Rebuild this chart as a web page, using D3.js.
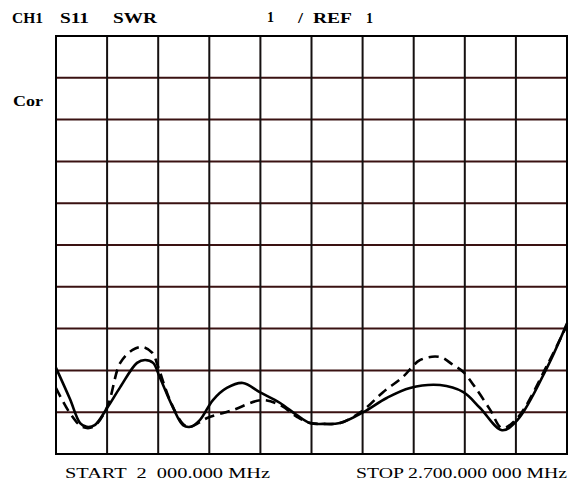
<!DOCTYPE html>
<html>
<head>
<meta charset="utf-8">
<script src="https://cdn.jsdelivr.net/npm/d3@7"></script>
<style>
  body { margin: 0; background: #fff; }
  text { font-family: "Liberation Serif", "DejaVu Serif", serif; fill: #000; }
</style>
</head>
<body>
<div id="container"></div>
<script>
// Frequência (MHz) e SWR
var freqSolid = [2000, 2019, 2033, 2042, 2053, 2070, 2088, 2111, 2122, 2133, 2142, 2160, 2174, 2184, 2197, 2215, 2234, 2256, 2279, 2307, 2330, 2348, 2366, 2389, 2421, 2453, 2485, 2526, 2558, 2581, 2611, 2632, 2673, 2700]
var swrSolid  = [3.06, 2.32, 1.74, 1.65, 1.69, 2.10, 2.60, 3.18, 3.25, 3.18, 2.84, 2.12, 1.69, 1.65, 1.81, 2.29, 2.58, 2.70, 2.48, 2.22, 1.93, 1.74, 1.72, 1.74, 2.00, 2.34, 2.58, 2.65, 2.48, 2.10, 1.57, 1.81, 3.08, 4.13]

var freqDashed = [2000, 2019, 2036, 2051, 2070, 2088, 2105, 2119, 2132, 2140, 2156, 2174, 2184, 2207, 2242, 2282, 2307, 2330, 2348, 2366, 2389, 2421, 2448, 2475, 2499, 2526, 2544, 2558, 2574, 2595, 2611, 2632, 2673, 2700]
var swrDashed  = [2.58, 1.98, 1.65, 1.65, 2.12, 3.18, 3.49, 3.56, 3.42, 3.08, 2.29, 1.72, 1.65, 1.86, 2.05, 2.29, 2.17, 1.89, 1.74, 1.72, 1.74, 2.05, 2.48, 2.84, 3.25, 3.32, 3.13, 2.96, 2.60, 2.05, 1.62, 1.86, 3.13, 4.09]

var xTicks = d3.range(2000, 2701, 70)
var yTicks = d3.range(1, 12, 1)

var margin = { top: 36, left: 56, right: 4, bottom: 31 },
  width = 571 - margin.left - margin.right,
  height = 485 - margin.top - margin.bottom

var svg = d3.select("#container")
  .append("svg")
  .attr("width", 571)
  .attr("height", 485)

var g = svg.append("g")
  .attr("transform", "translate(" + margin.left + "," + margin.top + ")")

// Escalas
var x = d3.scaleLinear().domain([2000, 2700]).range([0, width])
var y = d3.scaleLinear().domain([1, 11]).range([height, 0])

// Grade
g.selectAll(".hline")
  .data(yTicks)
  .enter().append("line")
  .attr("x1", 0).attr("x2", width)
  .attr("y1", function(d) { return y(d) })
  .attr("y2", function(d) { return y(d) })
  .attr("stroke", "#3a1212")
  .attr("stroke-width", 2)

g.selectAll(".vline")
  .data(xTicks)
  .enter().append("line")
  .attr("y1", 0).attr("y2", height)
  .attr("x1", function(d) { return x(d) })
  .attr("x2", function(d) { return x(d) })
  .attr("stroke", "#151010")
  .attr("stroke-width", 2)

g.append("rect")
  .attr("width", width).attr("height", height)
  .attr("fill", "none")
  .attr("stroke", "#000")
  .attr("stroke-width", 2)

// Curvas
var line = d3.line()
  .x(function(d) { return x(d[0]) })
  .y(function(d) { return y(d[1]) })
  .curve(d3.curveCatmullRom)

g.append("path")
  .datum(d3.zip(freqDashed, swrDashed))
  .attr("d", line)
  .attr("fill", "none")
  .attr("stroke", "#000")
  .attr("stroke-width", 2.6)
  .attr("stroke-dasharray", "10,6")

g.append("path")
  .datum(d3.zip(freqSolid, swrSolid))
  .attr("d", line)
  .attr("fill", "none")
  .attr("stroke", "#000")
  .attr("stroke-width", 2.6)

// Textos (largura medida na imagem)
var labels = [
  { t: "CH1", x: 12, y: 23, w: "bold", len: 31 },
  { t: "S11", x: 60, y: 23, w: "bold", len: 29 },
  { t: "SWR", x: 113, y: 23, w: "bold", len: 44 },
  { t: "1", x: 267, y: 22, w: "bold", len: 7 },
  { t: "/", x: 298, y: 23, w: "bold", len: 5 },
  { t: "REF", x: 313, y: 23, w: "bold", len: 39 },
  { t: "1", x: 366, y: 23, w: "bold", len: 7 },
  { t: "Cor", x: 13, y: 106, w: "bold", len: 30 },
  { t: "START  2  000.000 MHz", x: 65, y: 478, w: "normal", len: 205 },
  { t: "STOP 2.700.000 000 MHz", x: 356, y: 478, w: "normal", len: 211 }
]

svg.selectAll(".lbl")
  .data(labels)
  .enter().append("text")
  .attr("x", function(d) { return d.x })
  .attr("y", function(d) { return d.y })
  .attr("font-size", 15)
  .attr("font-weight", function(d) { return d.w })
  .attr("textLength", function(d) { return d.len })
  .attr("lengthAdjust", "spacingAndGlyphs")
  .style("white-space", "pre")
  .text(function(d) { return d.t })
</script>
</body>
</html>
